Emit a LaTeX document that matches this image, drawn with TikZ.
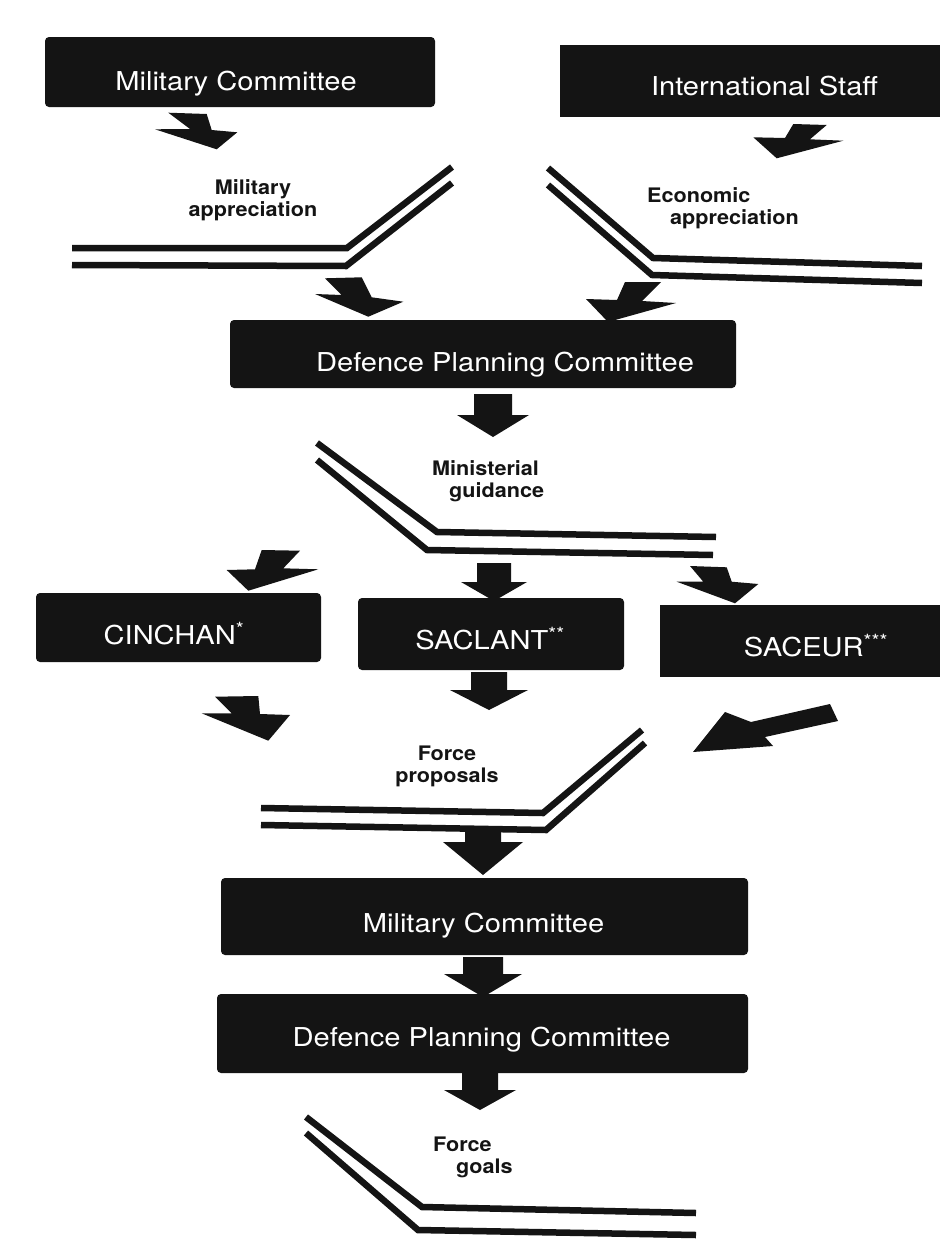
\documentclass[tikz,border=0pt]{standalone}
\usepackage{fontspec}
\setmainfont{TeX Gyre Heros}
\newfontfamily\boxfont[FakeStretch=1.12]{TeX Gyre Heros}
\newfontfamily\labfont[FakeStretch=1.08]{TeX Gyre Heros}
\definecolor{ink}{HTML}{141414}
\newcommand\btext[3]{\raisebox{-#2}{\makebox[0pt]{\hspace*{#1}\hspace*{#1}#3}}}
\begin{document}
\begin{tikzpicture}[x=1pt,y=-1pt,
  box/.style={fill=ink, rounded corners=4pt, text=white, inner sep=0pt,
    font=\boxfont\fontsize{26pt}{30pt}\selectfont, text height=19pt, text depth=5pt},
  lab/.style={font=\labfont\bfseries\fontsize{20pt}{22pt}\selectfont, inner sep=0pt, text=ink},
  folder/.style={draw=ink, line width=6.5pt, line join=miter},
  fat/.style={fill=ink}]
\useasboundingbox[fill=white] (0,0) rectangle (940,1242);

% boxes
\node[box, minimum width=390pt, minimum height=70pt] (mc1) at (240,72) {\btext{-4pt}{11.3pt}{Military Committee}};
\node[box, minimum width=380pt, minimum height=72pt, rounded corners=0pt] (is) at (750,81) {\btext{14.5pt}{7.3pt}{International Staff}};
\node[box, minimum width=506pt, minimum height=68pt] (dpc1) at (483,354) {\btext{22pt}{10.3pt}{Defence Planning Committee}};
\node[box, minimum width=285pt, minimum height=69pt] (cinchan) at (178.5,627.5) {\btext{-4.5pt}{9.8pt}{CINCHAN\textsuperscript{*}}};
\node[box, minimum width=266pt, minimum height=72pt] (saclant) at (491,634) {\btext{-1pt}{8.3pt}{SACLANT\textsuperscript{**}}};
\node[box, minimum width=280pt, minimum height=72pt, rounded corners=0pt] (saceur) at (800,641) {\btext{16pt}{8.3pt}{SACEUR\textsuperscript{***}}};
\node[box, minimum width=527pt, minimum height=77pt] (mc2) at (484.5,916.5) {\btext{-1pt}{8.8pt}{Military Committee}};
\node[box, minimum width=531pt, minimum height=79pt] (dpc2) at (482.5,1033.5) {\btext{-1pt}{5.8pt}{Defence Planning Committee}};

% labels
\node[lab, align=center] (milapp) at (253,200) {Military\\appreciation};
\node[lab, align=left, anchor=west] (ecoapp) at (647,208) {Economic\\\hspace*{23pt}appreciation};
\node[lab, align=left, anchor=west] (minguid) at (432,481.5) {Ministerial\\\hspace*{17pt}guidance};
\node[lab, align=center] (forprop) at (447,766) {Force\\proposals};
\node[lab, align=left, anchor=west] (forgoal) at (433,1157.5) {Force\\\hspace*{23pt}goals};

% folder double lines
\draw[folder] (72,248) -- (347,248) -- (452,167);
\draw[folder] (72,265) -- (346,266) -- (452,183);
\draw[folder] (548,168) -- (653,258) -- (922,266);
\draw[folder] (548,185) -- (652,275) -- (922,283);
\draw[folder] (317,443) -- (437,532) -- (716,537);
\draw[folder] (317,460) -- (427,550) -- (713,555);
\draw[folder] (261,808) -- (543,813) -- (642,730);
\draw[folder] (261,825) -- (546,830) -- (645,743);
\draw[folder] (306,1117) -- (422,1207) -- (696,1213);
\draw[folder] (306,1133) -- (418,1230) -- (696,1235);

% diagonal fat arrows
\fill[fat] (168.3,112.7) -- (206.7,114) -- (211.7,130) -- (237.3,132.3) -- (216.7,149.3) -- (155,129.3) -- (190,129) -- cycle;
\fill[fat] (793.3,124) -- (826.7,125) -- (810,139.3) -- (843.3,140.7) -- (776.7,158.3) -- (753.3,137.3) -- (785,138) -- cycle;
\fill[fat] (325,278.3) -- (361.7,277.3) -- (371.7,297.3) -- (403.3,301.7) -- (368.3,316.7) -- (315,294) -- (341.7,295) -- cycle;
\fill[fat] (625,282) -- (661,282) -- (642,301) -- (676,303) -- (608,322) -- (586,299) -- (617,300) -- cycle;
\fill[fat] (261.7,550) -- (300,550.7) -- (283.3,568.3) -- (318.3,569.3) -- (248.3,590.7) -- (226.7,570) -- (255,569.3) -- cycle;
\fill[fat] (690,566) -- (726.7,567.3) -- (731.7,581.7) -- (758.3,584) -- (735,603.3) -- (676.7,581.7) -- (703.3,581.7) -- cycle;
\fill[fat] (215,696.7) -- (258.3,696) -- (260,714) -- (290,715) -- (268.3,740.7) -- (201.7,713.3) -- (231.7,713.3) -- cycle;
\fill[fat] (830,704) -- (838,721) -- (765,737) -- (773,746) -- (693,752) -- (725,712) -- (751,722) -- cycle;

% straight fat arrows (x, shaft half, head half, y0, y1, tip)
\newcommand\downarr[6]{\fill[fat] (#1-#2,#4) -- (#1+#2,#4) -- (#1+#2,#5) -- (#1+#3,#5) -- (#1,#6) -- (#1-#3,#5) -- (#1-#2,#5) -- cycle;}
\downarr{493}{19}{36}{394}{415}{437}
\downarr{494}{17}{33}{563}{582}{601}
\downarr{489}{18}{39}{672}{690}{710}
\downarr{483}{18}{40}{832}{842}{875}
\downarr{483}{20}{39}{957}{974}{997}
\downarr{480}{18}{36}{1073}{1090}{1110}
\end{tikzpicture}
\end{document}
